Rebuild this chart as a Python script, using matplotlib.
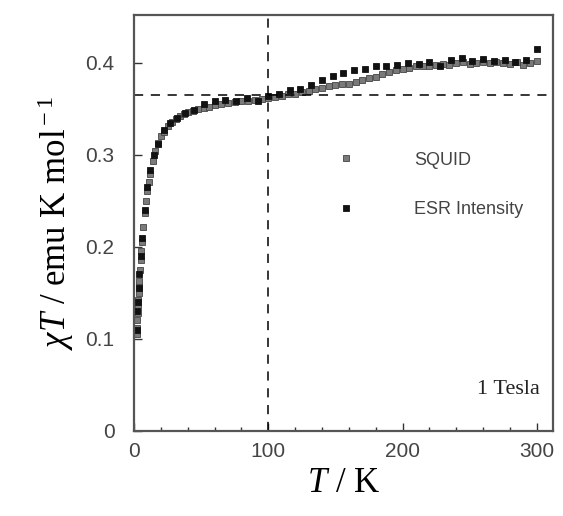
import matplotlib
matplotlib.use("Agg")
import matplotlib.pyplot as plt
import matplotlib.ticker as ticker

# SQUID data (T in K, chi*T in emu K mol^-1)
squid_T = [2, 2.2, 2.5, 2.8, 3, 3.3, 3.5, 3.8, 4, 4.5, 5, 5.5, 6, 7, 8, 9, 10, 11, 12, 14,
           16, 18, 20, 22, 25, 28, 31, 34, 37, 40, 44, 48, 52, 56, 60, 65, 70, 75, 80, 85,
           90, 95, 100, 105, 110, 115, 120, 125, 130, 135, 140, 145, 150, 155, 160, 165,
           170, 175, 180, 185, 190, 195, 200, 205, 210, 215, 220, 225, 230, 235, 240, 245,
           250, 255, 260, 265, 270, 275, 280, 285, 290, 295, 300]
squid_chiT = [0.105, 0.112, 0.12, 0.128, 0.135, 0.142, 0.15, 0.157, 0.163, 0.175, 0.186,
              0.196, 0.205, 0.222, 0.237, 0.25, 0.261, 0.271, 0.279, 0.293, 0.304, 0.313,
              0.32, 0.325, 0.331, 0.336, 0.339, 0.342, 0.344, 0.346, 0.348, 0.350, 0.351,
              0.352, 0.354, 0.355, 0.356, 0.357, 0.358, 0.359, 0.360, 0.361, 0.362, 0.363,
              0.364, 0.366, 0.366, 0.368, 0.369, 0.371, 0.373, 0.375, 0.376, 0.377, 0.377,
              0.379, 0.381, 0.383, 0.385, 0.388, 0.390, 0.392, 0.393, 0.394, 0.396, 0.397,
              0.397, 0.398, 0.399, 0.398, 0.400, 0.401, 0.399, 0.400, 0.401, 0.400, 0.401,
              0.400, 0.399, 0.401, 0.398, 0.400, 0.402]

# ESR intensity data
esr_T = [2, 2.5, 3, 3.5, 4, 5, 6, 8, 10, 12, 15, 18, 22, 27, 32, 38, 45, 52, 60, 68, 76,
         84, 92, 100, 108, 116, 124, 132, 140, 148, 156, 164, 172, 180, 188, 196, 204,
         212, 220, 228, 236, 244, 252, 260, 268, 276, 284, 292, 300]
esr_chiT = [0.11, 0.13, 0.14, 0.155, 0.17, 0.19, 0.21, 0.24, 0.265, 0.283, 0.30, 0.312,
            0.327, 0.335, 0.34, 0.345, 0.349, 0.355, 0.358, 0.36, 0.359, 0.362, 0.359,
            0.364, 0.366, 0.370, 0.372, 0.376, 0.381, 0.386, 0.389, 0.392, 0.393, 0.396,
            0.397, 0.398, 0.400, 0.399, 0.401, 0.397, 0.403, 0.405, 0.402, 0.404, 0.402,
            0.403, 0.401, 0.403, 0.415]

h_level = 0.365   # horizontal reference line
v_level = 100     # vertical reference line

plt.rcParams['mathtext.fontset'] = 'custom'
plt.rcParams['mathtext.rm'] = 'Liberation Serif'
plt.rcParams['mathtext.it'] = 'Liberation Serif:italic'

fig = plt.figure(figsize=(5.63, 5.16), dpi=100)
ax = fig.add_axes([0.238, 0.165, 0.744, 0.806])

ax.plot(squid_T, squid_chiT, 's', ms=3.8, mfc='#7a7a7a', mec='#444444', mew=0.6, label='SQUID')
ax.plot(esr_T, esr_chiT, 's', ms=3.8, mfc='#111111', mec='#111111', mew=0.6, label='ESR Intensity')

ax.axhline(h_level, color='black', lw=1.1, ls=(0, (6, 5)))
ax.axvline(v_level, color='black', lw=1.1, ls=(0, (6, 5)))

ax.set(xlim=(0, 312), ylim=(0, 0.452))
ax.xaxis.set_major_locator(ticker.MultipleLocator(100))
ax.xaxis.set_minor_locator(ticker.MultipleLocator(20))
ax.yaxis.set_major_locator(ticker.MultipleLocator(0.1))
ax.yaxis.set_major_formatter(ticker.FuncFormatter(lambda v, p: '0' if abs(v) < 1e-9 else f'{v:.1f}'))

ax.tick_params(which='both', direction='in', top=False, right=False, colors='#333333',
               labelcolor='#444444', labelsize=15, labelfontfamily='Liberation Sans')
ax.tick_params(which='major', length=6, width=1.0, pad=8)
ax.tick_params(which='minor', length=3, width=1.0)
ax.tick_params(axis='y', pad=14)
for s in ax.spines.values():
    s.set_color('#555555')
    s.set_linewidth(1.6)

ax.set_xlabel(r'$T$ / K', fontsize=25, family='Liberation Serif', labelpad=4)
ax.set_ylabel(r'$\chi T$ / emu K mol$^{\rm -1}$', fontsize=25, family='Liberation Serif', labelpad=7)

leg = ax.legend(loc='center left', bbox_to_anchor=(0.462, 0.591), frameon=False,
                prop={'family': 'Liberation Sans', 'size': 13}, handlelength=2,
                handletextpad=2.8, labelspacing=1.8, borderpad=0, borderaxespad=0,
                markerscale=1.0)
for t in leg.get_texts():
    t.set_color('#444444')

ax.text(0.969, 0.099, '1 Tesla', transform=ax.transAxes, ha='right', va='center',
        fontsize=16, family='Liberation Serif', color='#222222')

fig.savefig('out.png', dpi=100)
